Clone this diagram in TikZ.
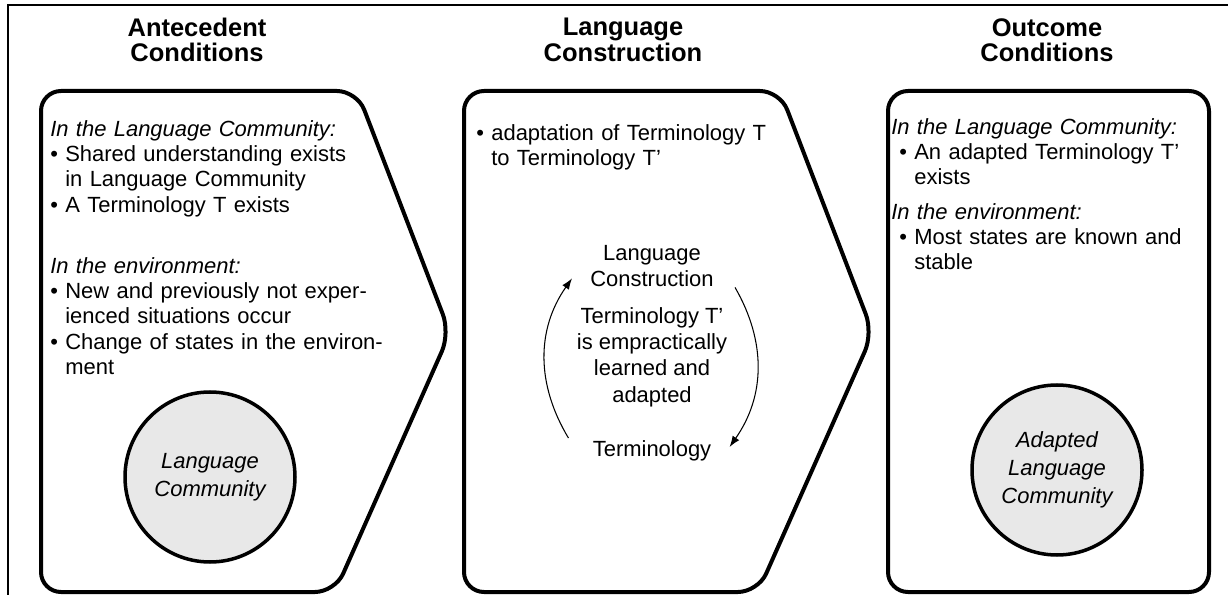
\documentclass[tikz,border=0pt]{standalone}
\usepackage{fontspec}
\setmainfont{Liberation Sans}
\usepackage{xcolor}
\usepackage{tikz}
\usetikzlibrary{arrows.meta, positioning}

% bullet line with hanging indent
\newcommand{\bitem}[2][0cm]{\par\noindent\hangindent=\dimexpr#1+0.3cm\relax\hangafter=1\hspace*{#1}\makebox[0.3cm][l]{\textbullet}#2\par}

\begin{document}
\begin{tikzpicture}[
    stage/.style={draw=black, line width=0.08cm, rounded corners=0.4cm, line join=round},
    title/.style={font=\bfseries\fontsize{14.5}{14.5}\selectfont, align=center},
    cond/.style={anchor=north west, inner sep=0pt, text width=7cm, align=left, font=\fontsize{12.5}{14.4}\selectfont},
    comm/.style={circle, draw=black, line width=0.07cm, fill=black!9, minimum size=3.4cm, inner sep=0pt, align=center, font=\itshape\fontsize{12.5}{16}\selectfont},
    cyc/.style={inner sep=0pt, align=center, font=\fontsize{12.5}{15}\selectfont},
    arrow/.style={line width=0.6pt, -{Latex[length=0.22cm, width=0.16cm]}}
]
    \useasboundingbox (0,0) rectangle (24.56,-11.9);
    \draw [line width=0.04cm] (0.16,-11.9) -- (0.16,-0.10) -- (24.56,-0.10);

    % Stage 1: Antecedent conditions
    \draw [stage] (0.82,-1.82) -- (7.14,-1.82) -- (9.0,-6.66) -- (6.70,-11.84) -- (0.82,-11.84) -- cycle;
    \node (ant_lbl) [title] at (3.94,-0.80) {Antecedent\\Conditions};
    \node (ant_lc) [cond] at (1.00,-2.40) {\textit{In the Language Community:}
        \bitem{Shared understanding exists\newline in Language Community}
        \bitem{A Terminology T exists}};
    \node (ant_env) [cond] at (1.00,-5.14) {\textit{In the environment:}
        \bitem{New and previously not exper-\newline ienced situations occur}
        \bitem{Change of states in the environ-\newline ment}};
    \node (ant_comm) [comm] at (4.20,-9.54) {Language\\Community};

    % Stage 2: Language construction
    \draw [stage] (9.28,-1.82) -- (15.60,-1.82) -- (17.46,-6.66) -- (15.16,-11.84) -- (9.28,-11.84) -- cycle;
    \node (con_lbl) [title] at (12.46,-0.80) {Language\\Construction};
    \node (con_txt) [cond] at (9.52,-2.30) {\bitem{adaptation of Terminology T\newline to Terminology T'}};
    \node (cyc_top) [cyc, anchor=north] at (13.04,-4.90) {Language\\Construction};
    \node (cyc_mid) [cyc, anchor=north] at (13.04,-6.14) {Terminology T'\\is empractically\\learned and\\adapted};
    \node (cyc_bot) [cyc, anchor=north] at (13.04,-8.80) {Terminology};

    % Stage 3: Outcome conditions
    \draw [stage] (17.76,-1.82) rectangle (24.18,-11.84);
    \node (out_lbl) [title] at (20.94,-0.80) {Outcome\\Conditions};
    \node (out_lc) [cond] at (17.82,-2.36) {\textit{In the Language Community:}
        \bitem[0.16cm]{An adapted Terminology T'\newline exists}};
    \node (out_env) [cond] at (17.82,-4.06) {\textit{In the environment:}
        \bitem[0.16cm]{Most states are known and\newline stable}};
    \node (out_comm) [comm] at (21.14,-9.40) {Adapted\\Language\\Community};

    % Cycle arrows
    \draw [arrow] ([xshift=-0.48cm, yshift=0.04cm]cyc_bot.north west) to[out=121, in=235] ([xshift=-0.36cm, yshift=0.18cm]cyc_top.south west);
    \draw [arrow] ([xshift=0.42cm]cyc_top.south east) to[out=300, in=55] ([xshift=0.36cm, yshift=-0.14cm]cyc_bot.north east);

\end{tikzpicture}
\end{document}
